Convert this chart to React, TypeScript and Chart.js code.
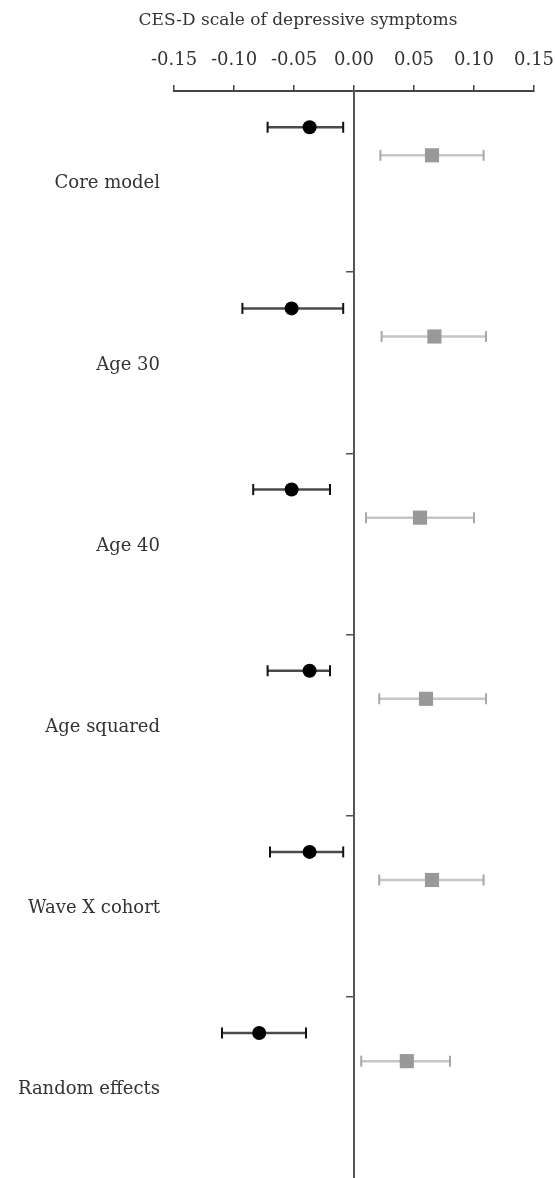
import React, { useEffect, useRef } from "react";
import { Chart, registerables } from "chart.js";

Chart.register(...registerables);

const models = ["Core model", "Age 30", "Age 40", "Age squared", "Wave X cohort", "Random effects"];
const blackEst = [-0.037, -0.052, -0.052, -0.037, -0.037, -0.079];
const blackLow = [-0.072, -0.093, -0.084, -0.072, -0.070, -0.110];
const blackHigh = [-0.009, -0.009, -0.020, -0.020, -0.009, -0.040];
const grayEst = [0.065, 0.067, 0.055, 0.060, 0.065, 0.044];
const grayLow = [0.022, 0.023, 0.010, 0.021, 0.021, 0.006];
const grayHigh = [0.108, 0.110, 0.100, 0.110, 0.108, 0.080];
const xTicks = [-0.15, -0.1, -0.05, 0, 0.05, 0.1, 0.15];
const axisTitle = "CES-D scale of depressive symptoms";

const BLACK_OFF = 0.2;
const GRAY_OFF = 0.355;
const LABEL_OFF = 0.512;
const FONT = "'DejaVu Serif', serif";

const zeroPad = (s: any) => {
  s.paddingTop = 0;
  s.paddingBottom = 0;
  s.paddingLeft = 0;
  s.paddingRight = 0;
};

export default function App() {
  const ref = useRef<HTMLCanvasElement | null>(null);

  useEffect(() => {
    const canvas = ref.current;
    if (!canvas) return;

    const bars: any[] = [];
    models.forEach((_, i) => {
      bars.push({
        type: "line",
        data: [
          { x: blackLow[i], y: i + BLACK_OFF },
          { x: blackHigh[i], y: i + BLACK_OFF },
        ],
        borderColor: "#4a4a4a",
        borderWidth: 2.5,
        pointStyle: "line",
        rotation: 90,
        pointRadius: 5.5,
        pointBorderColor: "#111111",
        pointBorderWidth: 2,
        order: 2,
        xAxisID: "x",
        yAxisID: "y",
      });
      bars.push({
        type: "line",
        data: [
          { x: grayLow[i], y: i + GRAY_OFF },
          { x: grayHigh[i], y: i + GRAY_OFF },
        ],
        borderColor: "#c6c6c6",
        borderWidth: 2.5,
        pointStyle: "line",
        rotation: 90,
        pointRadius: 5.5,
        pointBorderColor: "#a8a8a8",
        pointBorderWidth: 2,
        order: 2,
        xAxisID: "x",
        yAxisID: "y",
      });
    });

    const chart = new Chart(canvas, {
      type: "scatter",
      data: {
        datasets: [
          ...bars,
          {
            type: "scatter",
            data: models.map((_, i) => ({ x: blackEst[i], y: i + BLACK_OFF })),
            pointStyle: "circle",
            pointRadius: 7,
            pointBackgroundColor: "#000000",
            pointBorderWidth: 0,
            order: 1,
            xAxisID: "x",
            yAxisID: "y",
          },
          {
            type: "scatter",
            data: models.map((_, i) => ({ x: grayEst[i], y: i + GRAY_OFF })),
            pointStyle: "rect",
            pointRadius: 10,
            pointBackgroundColor: "#999999",
            pointBorderWidth: 0,
            order: 1,
            xAxisID: "x",
            yAxisID: "y",
          },
        ],
      },
      options: {
        responsive: false,
        animation: false,
        devicePixelRatio: 1,
        layout: { autoPadding: false, padding: { top: 0, right: 21, bottom: 0, left: 0 } },
        plugins: {
          legend: { display: false },
          tooltip: { enabled: false },
          title: { display: false },
        },
        scales: {
          x: {
            type: "linear",
            position: "top",
            min: -0.15,
            max: 0.15,
            afterBuildTicks: (s: any) => {
              s.ticks = xTicks.map((v) => ({ value: v }));
            },
            afterFit: (s: any) => {
              s.height = 91;
              zeroPad(s);
            },
            ticks: {
              callback: (v: any) => Number(v).toFixed(2),
              font: { family: FONT, size: 18 },
              color: "#333333",
              padding: 14,
              maxRotation: 0,
            },
            grid: {
              drawOnChartArea: false,
              drawTicks: true,
              tickLength: 6,
              color: "#444444",
              lineWidth: 1.5,
            },
            border: { display: true, color: "#444444", width: 2 },
          },
          y: {
            type: "linear",
            position: "left",
            min: 0,
            max: 6,
            reverse: true,
            afterBuildTicks: (s: any) => {
              s.ticks = models.map((_, i) => ({ value: i + LABEL_OFF }));
            },
            afterFit: (s: any) => {
              s.width = 174;
              zeroPad(s);
            },
            ticks: {
              callback: (v: any) => models[Math.round(Number(v) - LABEL_OFF)],
              font: { family: FONT, size: 18 },
              color: "#333333",
              padding: 14,
              crossAlign: "near",
            },
            grid: { display: false, drawTicks: false },
            border: { display: false },
          },
          yc: {
            type: "linear",
            position: { x: 0 },
            axis: "y",
            min: 0,
            max: 6,
            reverse: true,
            afterBuildTicks: (s: any) => {
              s.ticks = models.slice(1).map((_, i) => ({ value: i + 1 }));
            },
            afterFit: zeroPad,
            ticks: { display: false, stepSize: 1 },
            grid: {
              drawOnChartArea: false,
              drawTicks: true,
              tickLength: 7,
              color: "#555555",
              lineWidth: 1.5,
            },
            border: { display: true, color: "#555555", width: 2 },
          },
        },
      },
    } as any);

    return () => chart.destroy();
  }, []);

  return (
    <div style={{ position: "absolute", left: 0, top: 0, width: 555, height: 1178, background: "#ffffff" }}>
      <canvas ref={ref} width={555} height={1178} style={{ display: "block" }} />
      <div
        style={{
          position: "absolute",
          left: 0,
          top: 9,
          width: 596,
          textAlign: "center",
          fontFamily: FONT,
          fontSize: 17,
          lineHeight: "20px",
          color: "#333333",
          whiteSpace: "nowrap",
        }}
      >
        {axisTitle}
      </div>
    </div>
  );
}
